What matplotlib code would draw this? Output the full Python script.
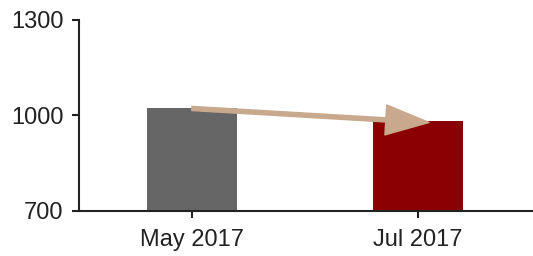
import matplotlib.pyplot as plt
from matplotlib.patches import FancyArrowPatch

plt.rcParams['font.family'] = ['Liberation Sans', 'DejaVu Sans']

months = ['May 2017', 'Jul 2017']
values = [1022, 982]
colors = ['#666666', '#8b0000']
yticks = [700, 1000, 1300]

fig = plt.figure(figsize=(5.33, 2.56), dpi=100)
ax = fig.add_axes([0.148, 0.176, 0.852, 0.746])

x = list(range(len(months)))
ax.bar(x, values, width=0.4, color=colors, zorder=2)

ax.set_xlim(-0.5, 1.51)
ax.set_ylim(700, 1300)
ax.set_xticks(x)
ax.set_xticklabels(months)
ax.set_yticks(yticks)

for side in ['top', 'right']:
    ax.spines[side].set_visible(False)
for side in ['left', 'bottom']:
    ax.spines[side].set_linewidth(1.5)
    ax.spines[side].set_color('#222222')

ax.tick_params(axis='both', labelsize=17, colors='#222222', width=1.5, length=5,
               labelcolor='#222222')
ax.tick_params(axis='x', pad=8)
ax.tick_params(axis='y', pad=6)

# trend arrow from first bar top to the second
arrow = FancyArrowPatch((x[0], values[0]), (x[1] + 0.05, values[1] - 4),
                        arrowstyle='simple,tail_width=0.25,head_width=1.8,head_length=2.6',
                        mutation_scale=12, color='#c8a98e', zorder=3,
                        shrinkA=0, shrinkB=0)
ax.add_patch(arrow)

fig.savefig('out.png', dpi=100)
